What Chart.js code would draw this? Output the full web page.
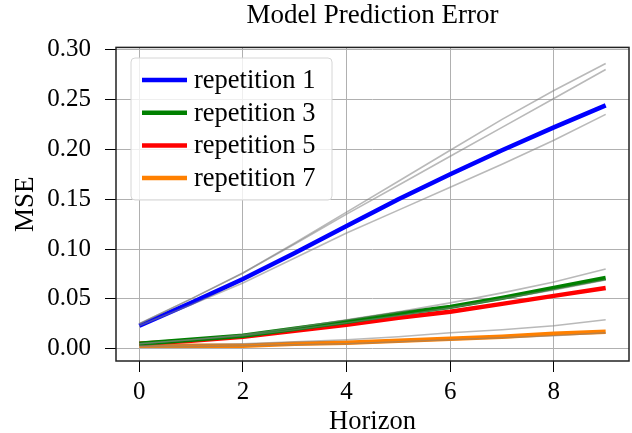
<!DOCTYPE html>
<html>
<head>
<meta charset="utf-8">
<script src="https://cdn.jsdelivr.net/npm/chart.js@4.4.0/dist/chart.umd.min.js"></script>
<style>
  html, body { margin: 0; padding: 0; background: #fff; }
  #wrap { width: 632px; height: 433px; }
</style>
</head>
<body>
<div id="wrap"><canvas id="chart" width="632" height="433"></canvas></div>
<script>
// horizon steps
const horizon = [0, 1, 2, 3, 4, 5, 6, 7, 8, 9];

// highlighted repetitions
const rep1 = [0.023, 0.046, 0.070, 0.096, 0.123, 0.150, 0.175, 0.199, 0.222, 0.244];
const rep3 = [0.005, 0.009, 0.013, 0.020, 0.027, 0.035, 0.042, 0.051, 0.061, 0.071];
const rep5 = [0.005, 0.008, 0.012, 0.018, 0.024, 0.031, 0.037, 0.045, 0.053, 0.061];
const rep7 = [0.003, 0.003, 0.003, 0.005, 0.006, 0.008, 0.010, 0.012, 0.015, 0.017];

// other repetitions (grey)
const faint1 = [0.025, 0.050, 0.076, 0.106, 0.137, 0.168, 0.199, 0.230, 0.259, 0.286];
const faint2 = [0.025, 0.050, 0.076, 0.105, 0.135, 0.164, 0.193, 0.222, 0.251, 0.280];
const faint3 = [0.023, 0.044, 0.066, 0.091, 0.116, 0.139, 0.162, 0.185, 0.209, 0.235];
const faint4 = [0.005, 0.009, 0.014, 0.021, 0.029, 0.037, 0.046, 0.056, 0.067, 0.080];
const faint5 = [0.005, 0.009, 0.013, 0.019, 0.026, 0.033, 0.041, 0.050, 0.059, 0.069];
const faint6 = [0.003, 0.004, 0.005, 0.007, 0.009, 0.012, 0.016, 0.019, 0.023, 0.029];
const faint7 = [0.002, 0.002, 0.003, 0.004, 0.005, 0.007, 0.009, 0.011, 0.013, 0.016];

const xTicks = [0, 2, 4, 6, 8];
const yTicks = [0.00, 0.05, 0.10, 0.15, 0.20, 0.25, 0.30];

Chart.defaults.font.family = '"Liberation Serif", "DejaVu Serif", serif';

const toPoints = (arr) => arr.map((v, i) => ({ x: horizon[i], y: v }));

function faintSet(arr) {
    return {
        label: '',
        data: toPoints(arr),
        borderColor: 'rgba(128,128,128,0.55)',
        borderWidth: 1.6,
        pointRadius: 0,
        tension: 0
    };
}

function mainSet(label, arr, color) {
    return {
        label: label,
        data: toPoints(arr),
        borderColor: color,
        backgroundColor: color,
        borderWidth: 4.5,
        pointRadius: 0,
        tension: 0
    };
}

// frame around plot + legend box in the upper left
const framePlugin = {
    id: 'frame',
    afterDatasetsDraw(chart) {
        const { ctx, chartArea: a } = chart;
        ctx.save();
        ctx.strokeStyle = '#222';
        ctx.lineWidth = 1.5;
        ctx.strokeRect(a.left, a.top, a.right - a.left, a.bottom - a.top);

        // legend
        const items = chart.data.datasets.filter(d => d.label);
        const x0 = 131, y0 = 58, w = 201, h = 142, r = 4;
        ctx.beginPath();
        ctx.moveTo(x0 + r, y0);
        ctx.arcTo(x0 + w, y0, x0 + w, y0 + h, r);
        ctx.arcTo(x0 + w, y0 + h, x0, y0 + h, r);
        ctx.arcTo(x0, y0 + h, x0, y0, r);
        ctx.arcTo(x0, y0, x0 + w, y0, r);
        ctx.closePath();
        ctx.fillStyle = 'rgba(255,255,255,0.8)';
        ctx.fill();
        ctx.strokeStyle = '#d6d6d6';
        ctx.lineWidth = 1;
        ctx.stroke();

        ctx.font = '26.5px "Liberation Serif"';
        ctx.textBaseline = 'middle';
        ctx.fillStyle = '#000';
        items.forEach((d, i) => {
            const y = 80 + i * 32.7;
            ctx.strokeStyle = d.borderColor;
            ctx.lineWidth = 4.5;
            ctx.beginPath();
            ctx.moveTo(142, y);
            ctx.lineTo(187, y);
            ctx.stroke();
            ctx.fillText(d.label, 194, y + 1);
        });
        ctx.restore();
    }
};

const ctx = document.getElementById('chart').getContext('2d');
const chart = new Chart(ctx, {
    type: 'line',
    data: {
        datasets: [
            faintSet(faint1), faintSet(faint2), faintSet(faint3),
            faintSet(faint4), faintSet(faint5), faintSet(faint6), faintSet(faint7),
            mainSet('repetition 1', rep1, '#0000ff'),
            mainSet('repetition 3', rep3, '#008000'),
            mainSet('repetition 5', rep5, '#ff0000'),
            mainSet('repetition 7', rep7, '#ff8000')
        ]
    },
    options: {
        responsive: false,
        animation: false,
        devicePixelRatio: 1,
        layout: { padding: { right: 3, left: 0, top: 0, bottom: 0 } },
        scales: {
            x: {
                type: 'linear',
                min: -0.45,
                max: 9.45,
                afterBuildTicks: (s) => { s.ticks = xTicks.map(v => ({ value: v })); },
                afterFit: (s) => { s.height = 72; },
                ticks: {
                    color: '#000',
                    font: { size: 25 },
                    padding: 5,
                    maxRotation: 0,
                    callback: (v) => String(v)
                },
                grid: { color: '#b0b0b0', lineWidth: 1, tickColor: '#000', tickLength: 11 },
                border: { display: false },
                title: {
                    display: true,
                    text: 'Horizon',
                    color: '#000',
                    font: { size: 26.5, lineHeight: 0.85 },
                    padding: { top: 0, bottom: 0 }
                }
            },
            y: {
                type: 'linear',
                min: -0.0123,
                max: 0.3022,
                afterBuildTicks: (s) => { s.ticks = yTicks.map(v => ({ value: v })); },
                afterFit: (s) => { s.width = 116; },
                ticks: {
                    color: '#000',
                    font: { size: 25 },
                    padding: 14,
                    callback: (v) => Number(v).toFixed(2)
                },
                grid: { color: '#b0b0b0', lineWidth: 1, tickColor: '#000', tickLength: 11 },
                border: { display: false },
                title: {
                    display: true,
                    text: 'MSE',
                    color: '#000',
                    font: { size: 27 },
                    padding: { top: 10, bottom: 0 }
                }
            }
        },
        plugins: {
            legend: { display: false },
            tooltip: { enabled: false },
            title: {
                display: true,
                text: 'Model Prediction Error',
                color: '#000',
                fullSize: false,
                font: { size: 27, weight: 'normal' },
                padding: { top: 0, bottom: 15 }
            }
        }
    },
    plugins: [framePlugin]
});
</script>
</body>
</html>
